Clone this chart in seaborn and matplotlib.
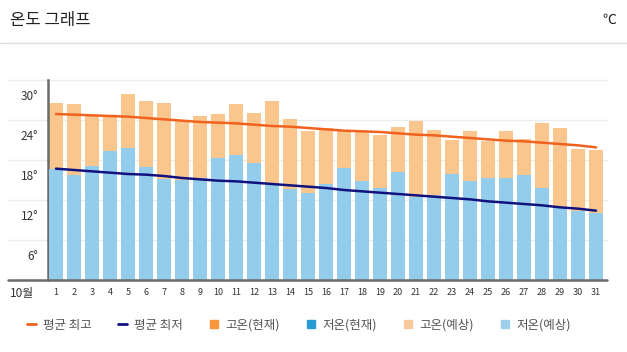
import numpy as np
import matplotlib.pyplot as plt
import seaborn as sns
from matplotlib.lines import Line2D
from matplotlib.transforms import ScaledTranslation

# 10월 일별 기온 (예상 고온/저온, 평균 최고/최저)
days = list(range(1, 32))
high_fc = [26.5, 26.4, 24.6, 24.4, 27.9, 26.9, 26.6, 23.8, 24.6, 24.9,
           26.4, 25.0, 26.8, 24.1, 22.4, 22.8, 22.3, 22.3, 21.8, 23.0,
           23.9, 22.5, 21.0, 22.4, 20.8, 22.4, 21.1, 23.5, 22.8, 19.7, 19.5]
low_fc = [16.6, 15.7, 17.1, 19.4, 19.8, 17.0, 15.2, 15.0, 15.3, 18.3,
          18.7, 17.5, 14.3, 13.6, 13.0, 14.4, 16.8, 14.9, 13.8, 16.2,
          12.4, 12.8, 15.9, 14.9, 15.3, 15.3, 15.7, 13.8, 10.8, 10.3, 10.0]
avg_high = [24.9, 24.8, 24.7, 24.6, 24.5, 24.3, 24.1, 23.9, 23.7, 23.6,
            23.5, 23.3, 23.1, 23.0, 22.8, 22.6, 22.4, 22.3, 22.2, 22.0,
            21.8, 21.7, 21.5, 21.3, 21.1, 20.9, 20.8, 20.6, 20.4, 20.2, 19.9]
avg_low = [16.7, 16.5, 16.3, 16.1, 15.9, 15.8, 15.6, 15.3, 15.1, 14.9,
           14.8, 14.6, 14.4, 14.2, 14.0, 13.8, 13.5, 13.3, 13.1, 12.9,
           12.7, 12.5, 12.3, 12.1, 11.8, 11.6, 11.4, 11.2, 10.9, 10.7, 10.4]
yticks = [6, 12, 18, 24, 30]
legend_labels = ["평균 최고", "평균 최저", "고온(현재)", "저온(현재)", "고온(예상)", "저온(예상)"]

sns.set_style("white")
plt.rcParams['font.family'] = ['Noto Sans CJK KR', 'DejaVu Sans']

fig = plt.figure(figsize=(6.27, 3.52), dpi=100)
ax = fig.add_axes([48/627, 1-280/352, (607-48)/627, 200/352])

# 격자선 (왼쪽 라벨 밑까지 이어짐)
for v in [0] + yticks:
    ax.axhline(v, xmin=-0.072, xmax=1, color="#ececec", linewidth=1, clip_on=False, zorder=0)

sns.barplot(x=days, y=high_fc, color="#f9c78e", saturation=1, width=0.74, linewidth=0, ax=ax, zorder=2)
sns.barplot(x=days, y=low_fc, color="#93cdeb", saturation=1, width=0.74, linewidth=0, ax=ax, zorder=3)
pos = np.arange(len(days))
sns.lineplot(x=pos, y=avg_high, color="#f0621e", linewidth=1.8, ax=ax, zorder=4)
sns.lineplot(x=pos, y=avg_low, color="#12127e", linewidth=1.8, ax=ax, zorder=4)

ax.set_xlim(-0.444, 30.61)
ax.set_ylim(0, 30)
ax.set_yticks(yticks)
ax.set_yticklabels([f"{v}°" for v in yticks])
ax.set_xticks(pos)
ax.set_xticklabels([str(d) for d in days])
ax.tick_params(axis='y', length=0, pad=7, labelsize=8.5, labelcolor="#333333")
ax.tick_params(axis='x', length=0, pad=6, labelsize=6.5, labelcolor="#333333")
for lab in ax.get_yticklabels():
    lab.set_transform(lab.get_transform() + ScaledTranslation(0, -15/100, fig.dpi_scale_trans))
ax.set_xlabel("")
ax.set_ylabel("")
for s in ["top", "right", "bottom"]:
    ax.spines[s].set_visible(False)
ax.spines["left"].set_color("#6b6b6b")
ax.spines["left"].set_linewidth(1.8)
ax.axhline(0, xmin=-0.072, xmax=1, color="#6b6b6b", linewidth=1.8, clip_on=False, zorder=5)

fig.text(10/627, 1-293/352, "10월", fontsize=8.5, color="#333333", va="center", ha="left")

# 제목과 구분선
fig.text(10/627, 1-20/352, "온도 그래프", fontsize=12, color="#222222", va="center", ha="left")
fig.text(616/627, 1-20/352, "℃", fontsize=10, color="#222222", va="center", ha="right")
fig.add_artist(Line2D([0, 1], [1-43/352, 1-43/352], transform=fig.transFigure, color="#dddddd", linewidth=1))

handles = [
    Line2D([], [], color="#f0621e", linewidth=2),
    Line2D([], [], color="#12127e", linewidth=2),
    Line2D([], [], marker="s", linestyle="none", color="#f7963c", markersize=6),
    Line2D([], [], marker="s", linestyle="none", color="#2a9ad4", markersize=6),
    Line2D([], [], marker="s", linestyle="none", color="#f9c99b", markersize=6),
    Line2D([], [], marker="s", linestyle="none", color="#9ecfea", markersize=6),
]
fig.legend(handles, legend_labels, loc="center left", bbox_to_anchor=(27/627, 1-325/352),
           ncol=6, frameon=False, fontsize=9, labelcolor="#555555", handlelength=0.7,
           handletextpad=0.6, columnspacing=2.1, borderaxespad=0, borderpad=0)

fig.savefig("out.png", dpi=100)
